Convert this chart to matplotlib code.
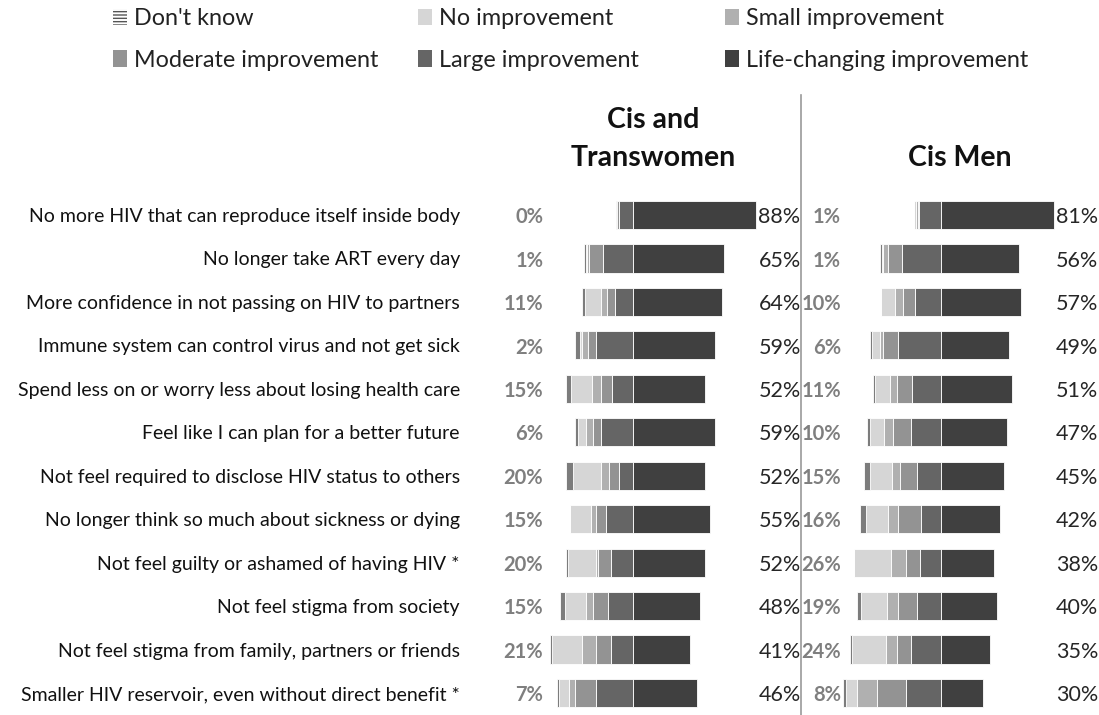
import matplotlib
matplotlib.use('Agg')
import matplotlib.pyplot as plt
from matplotlib.patches import Patch
from matplotlib.lines import Line2D

plt.rcParams['font.family'] = ['Lato', 'DejaVu Sans']

categories = [
    "No more HIV that can reproduce itself inside body",
    "No longer take ART every day",
    "More confidence in not passing on HIV to partners",
    "Immune system can control virus and not get sick",
    "Spend less on or worry less about losing health care",
    "Feel like I can plan for a better future",
    "Not feel required to disclose HIV status to others",
    "No longer think so much about sickness or dying",
    "Not feel guilty or ashamed of having HIV *",
    "Not feel stigma from society",
    "Not feel stigma from family, partners or friends",
    "Smaller HIV reservoir, even without direct benefit *",
]
series_names = ["Don't know", "No improvement", "Small improvement",
                "Moderate improvement", "Large improvement", "Life-changing improvement"]

# Cis and Transwomen
dk_w = [0.5, 1.5, 2, 3, 4, 1.5, 5.5, 0, 1.5, 3.5, 1.5, 1.5]
no_w = [0, 1, 11, 2, 15, 6, 20, 15, 20, 15, 21, 7]
small_w = [0.5, 1.5, 4.5, 4, 6, 5, 5.5, 4, 2, 5, 10.5, 4.5]
mod_w = [1, 10, 6, 6, 8, 6, 7, 7, 9, 10.5, 10.5, 15]
large_w = [10, 21, 12.5, 26, 15, 22.5, 10, 19, 15.5, 18, 15.5, 26]
life_w = [88, 65, 64, 59, 52, 59, 52, 55, 52, 48, 41, 46]
no_label_w = [0, 1, 11, 2, 15, 6, 20, 15, 20, 15, 21, 7]

# Cis Men
dk_m = [0, 1.5, 0, 1.5, 1.5, 2.5, 4.5, 4, 0, 2.5, 1.5, 2]
no_m = [1, 1, 10, 6, 11, 10, 15.5, 16, 26.5, 19, 24, 8]
small_m = [1.5, 3.5, 6, 2, 5, 6, 6, 7.5, 10.5, 8, 8, 14]
mod_m = [1, 10, 8.5, 11, 11, 13, 12, 16.5, 10, 13, 10, 21]
large_m = [15.5, 28, 18.5, 30.5, 20.5, 21.5, 17, 14, 15, 17.5, 21.5, 25]
life_m = [81, 56, 57, 49, 51, 47, 45, 42, 38, 40, 35, 30]
no_label_m = [1, 1, 10, 6, 11, 10, 15, 16, 26, 19, 24, 8]

colors = {
    "dk": "#7c7c7c", "no": "#d6d6d6", "small": "#b0b0b0",
    "mod": "#939393", "large": "#656565", "life": "#404040",
}

W, H = 1099, 715
fig = plt.figure(figsize=(W / 100, H / 100), dpi=100)
scale = 1.397  # px per percent
top_px, bot_px = 193.3, 714.7


def make_axes(center_px, xmin, xmax):
    left = center_px + xmin * scale
    width = (xmax - xmin) * scale
    ax = fig.add_axes([left / W, (H - bot_px) / H, width / W, (bot_px - top_px) / H])
    ax.set_xlim(xmin, xmax)
    ax.set_ylim(len(categories) - 0.5, -0.5)
    for s in ax.spines.values():
        s.set_visible(False)
    ax.set_xticks([])
    return ax


def draw_panel(ax, dk, no, small, mod, large, life, nolab, lx, rx):
    y = list(range(len(categories)))
    kw = dict(height=0.65, edgecolor="white", linewidth=0.6)
    ax.barh(y, life, left=0, color=colors["life"], **kw)
    cum = [0.0] * len(y)
    for vals, key in [(large, "large"), (mod, "mod"), (small, "small"), (no, "no"), (dk, "dk")]:
        lefts = [-(c + v) for c, v in zip(cum, vals)]
        ax.barh(y, vals, left=lefts, color=colors[key], **kw)
        cum = [c + v for c, v in zip(cum, vals)]
    for i in y:
        ax.text(lx, i + 0.05, f"{nolab[i]}%", ha="right", va="center",
                fontsize=14.5, color="#7f7f7f", fontweight="bold")
        ax.text(rx, i + 0.05, f"{life[i]}%", ha="left", va="center",
                fontsize=15.5, color="#262626")


ax1 = make_axes(632.7, -65, 120)
draw_panel(ax1, dk_w, no_w, small_w, mod_w, large_w, life_w, no_label_w, -64, 90)
ax1.set_yticks(range(len(categories)))
ax1.set_yticklabels(categories, fontsize=14, color="#111111")
ax1.tick_params(axis="y", length=0, pad=59)

ax2 = make_axes(941, -75, 112)
draw_panel(ax2, dk_m, no_m, small_m, mod_m, large_m, life_m, no_label_m, -71.6, 82.3)
ax2.set_yticks([])

# panel titles
title_kw = dict(ha="center", va="center", fontsize=20.5, fontweight="bold", color="#111111")
fig.text(653 / W, 1 - 120 / H, "Cis and", **title_kw)
fig.text(653 / W, 1 - 158 / H, "Transwomen", **title_kw)
fig.text(960 / W, 1 - 158 / H, "Cis Men", **title_kw)

# divider
fig.add_artist(Line2D([801 / W, 801 / W], [1 - 95 / H, 0], color="#9a9a9a", lw=1.2))

# legend (row-major, drawn as three columns)
handles = {
    "Don't know": Patch(facecolor="white", edgecolor="#555555", hatch="-----", linewidth=0),
    "No improvement": Patch(facecolor=colors["no"]),
    "Small improvement": Patch(facecolor=colors["small"]),
    "Moderate improvement": Patch(facecolor=colors["mod"]),
    "Large improvement": Patch(facecolor=colors["large"]),
    "Life-changing improvement": Patch(facecolor=colors["life"]),
}
cols = [(113, [series_names[0], series_names[3]]),
        (418, [series_names[1], series_names[4]]),
        (725, [series_names[2], series_names[5]])]
for xpx, names in cols:
    fig.legend([handles[n] for n in names], names, loc="upper left",
               bbox_to_anchor=(xpx / W, 1 - 8 / H), frameon=False,
               fontsize=16.8, handlelength=0.6, handleheight=0.7,
               handletextpad=0.3, labelspacing=0.88, borderpad=0,
               borderaxespad=0, labelcolor="#222222")

fig.savefig("out.png", dpi=100)
